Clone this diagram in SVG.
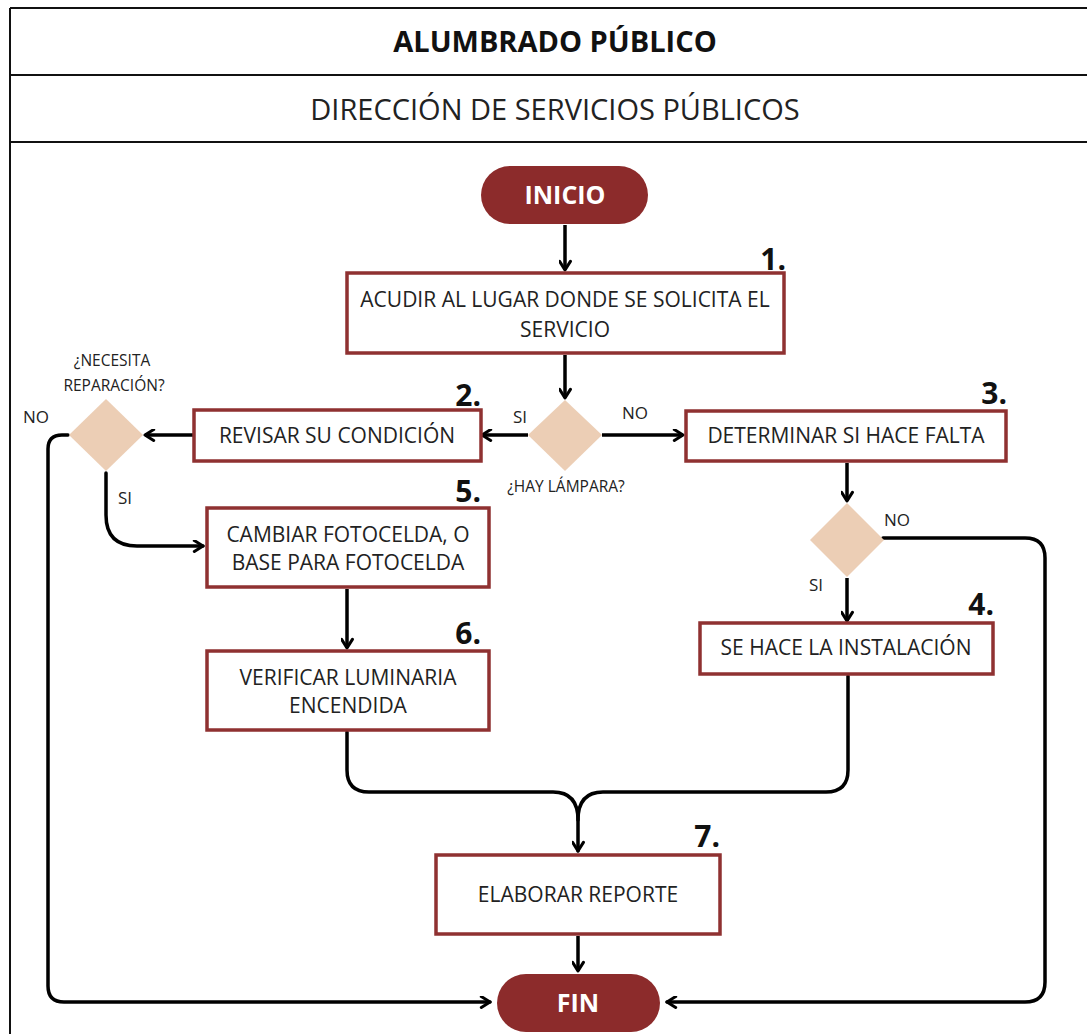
<svg xmlns="http://www.w3.org/2000/svg" width="1087" height="1034" viewBox="0 0 1087 1034">
<defs>
<marker id="ah" viewBox="0 0 12 12" refX="10" refY="6" markerWidth="13" markerHeight="13" markerUnits="userSpaceOnUse" orient="auto">
<path d="M2,1 L10,6 L2,11" fill="none" stroke="#000" stroke-width="2.8" stroke-linecap="round" stroke-linejoin="round"/>
</marker>
<style>
.frame{fill:none;stroke:#111;stroke-width:2}
.box{fill:#fff;stroke:#8f3131;stroke-width:3.5}
.term{fill:#8c2b2b}
.dia{fill:#ecceb5}
.t{font-family:"Open Sans","Liberation Sans",sans-serif;fill:#222;text-anchor:middle}
.bt{font-size:21px}
.num{font-family:"Open Sans","Liberation Sans",sans-serif;font-weight:bold;font-size:30px;fill:#111;text-anchor:end}
.lab{font-family:"Open Sans","Liberation Sans",sans-serif;font-size:17px;fill:#222;text-anchor:middle}
.sm{font-family:"Open Sans","Liberation Sans",sans-serif;font-size:15.5px;fill:#222;text-anchor:middle}
.tw{font-family:"Open Sans","Liberation Sans",sans-serif;font-weight:bold;font-size:25px;fill:#fff;text-anchor:middle}
.c{fill:none;stroke:#000;stroke-width:3.5;stroke-linecap:round;stroke-linejoin:round}
.ca{fill:none;stroke:#000;stroke-width:3.5;marker-end:url(#ah)}
</style>
</defs>
<rect width="1087" height="1034" fill="#fff"/>
<g id="header">
<line class="frame" x1="10" y1="8" x2="1087" y2="8"/>
<line class="frame" x1="10" y1="75" x2="1087" y2="75"/>
<line class="frame" x1="10" y1="142" x2="1087" y2="142"/>
<line class="frame" x1="10" y1="8" x2="10" y2="1034"/>
<text class="t" x="555" y="52" style="font-size:29px;font-weight:bold;fill:#111">ALUMBRADO PÚBLICO</text>
<text class="t" x="555" y="120" style="font-size:29px">DIRECCIÓN DE SERVICIOS PÚBLICOS</text>
</g>
<g id="connectors">
<line class="ca" x1="565" y1="225" x2="565" y2="270"/>
<line class="ca" x1="565" y1="355" x2="565" y2="398"/>
<line class="ca" x1="528" y1="435" x2="482" y2="435"/>
<line class="ca" x1="602" y1="435" x2="683" y2="435"/>
<line class="ca" x1="193" y1="435" x2="145" y2="435"/>
<path class="c" d="M68,435 H62 Q48,435 48,449 V986 Q48,1002 64,1002 H490" marker-end="url(#ah)"/>
<path class="c" d="M106,473 V515 Q106,546 137,546 H203" marker-end="url(#ah)"/>
<line class="ca" x1="347" y1="589" x2="347" y2="648"/>
<line class="ca" x1="847" y1="463" x2="847" y2="501"/>
<path class="c" d="M883,538 H1025 Q1045,538 1045,558 V982 Q1045,1002 1025,1002 H667" marker-end="url(#ah)"/>
<line class="ca" x1="847" y1="578" x2="847" y2="621"/>
<path class="c" d="M347,732 V770 Q347,792 369,792 H553 Q578,792 578,820 V851" marker-end="url(#ah)"/>
<path class="c" d="M848,676 V770 Q848,792 826,792 H603 Q578,792 578,820"/>
<line class="ca" x1="578" y1="936" x2="578" y2="971"/>
</g>
<g id="inicio">
<rect class="term" x="481" y="166" width="167" height="58" rx="29"/>
<text class="tw" x="565" y="204">INICIO</text>
</g>
<g id="paso1">
<rect class="box" x="347" y="273" width="437" height="80"/>
<text class="t bt" x="565" y="307">ACUDIR AL LUGAR DONDE SE SOLICITA EL</text>
<text class="t bt" x="565" y="337">SERVICIO</text>
<text class="num" x="786" y="270">1.</text>
</g>
<g id="dec-lampara">
<polygon class="dia" points="565,400 602,435 565,471 528,435"/>
<text class="sm" x="566" y="492">¿HAY LÁMPARA?</text>
<text class="lab" x="520" y="423">SI</text>
<text class="lab" x="635" y="419">NO</text>
</g>
<g id="paso2">
<rect class="box" x="194" y="410" width="287" height="51"/>
<text class="t bt" x="337" y="443">REVISAR SU CONDICIÓN</text>
<text class="num" x="481" y="406">2.</text>
</g>
<g id="paso3">
<rect class="box" x="686" y="411" width="320" height="50"/>
<text class="t bt" x="846" y="443">DETERMINAR SI HACE FALTA</text>
<text class="num" x="1007" y="404">3.</text>
</g>
<g id="dec-reparacion">
<polygon class="dia" points="106,399 143,435 106,471 69,435"/>
<text class="sm" x="112" y="366">¿NECESITA</text>
<text class="sm" x="114" y="391">REPARACIÓN?</text>
<text class="lab" x="36" y="423">NO</text>
<text class="lab" x="125" y="504">SI</text>
</g>
<g id="paso5">
<rect class="box" x="207" y="508" width="282" height="79"/>
<text class="t bt" x="348" y="542">CAMBIAR FOTOCELDA, O</text>
<text class="t bt" x="348" y="570">BASE PARA FOTOCELDA</text>
<text class="num" x="481" y="502">5.</text>
</g>
<g id="paso6">
<rect class="box" x="207" y="651" width="282" height="79"/>
<text class="t bt" x="348" y="685">VERIFICAR LUMINARIA</text>
<text class="t bt" x="348" y="713">ENCENDIDA</text>
<text class="num" x="481" y="644">6.</text>
</g>
<g id="dec-falta">
<polygon class="dia" points="847,503 884,540 847,577 810,540"/>
<text class="lab" x="897" y="526">NO</text>
<text class="lab" x="816" y="591">SI</text>
</g>
<g id="paso4">
<rect class="box" x="700" y="623" width="293" height="51"/>
<text class="t bt" x="846" y="655">SE HACE LA INSTALACIÓN</text>
<text class="num" x="994" y="615">4.</text>
</g>
<g id="paso7">
<rect class="box" x="436" y="855" width="284" height="79"/>
<text class="t bt" x="578" y="902">ELABORAR REPORTE</text>
<text class="num" x="720" y="847">7.</text>
</g>
<g id="fin">
<rect class="term" x="497" y="974" width="163" height="58" rx="29"/>
<text class="tw" x="578" y="1012">FIN</text>
</g>
</svg>
